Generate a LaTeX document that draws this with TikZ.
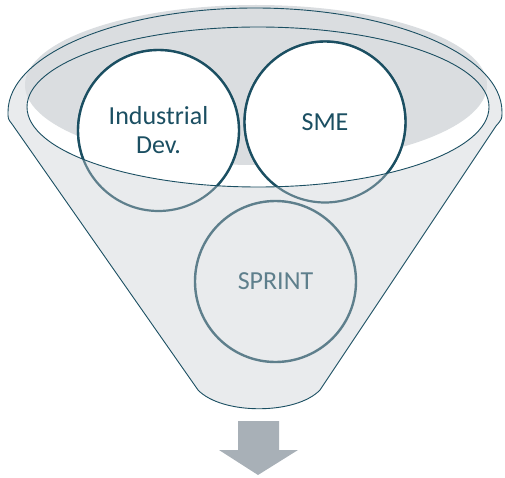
\documentclass[tikz,border=0pt]{standalone}
\usepackage{fontspec}
\setmainfont{Carlito}
\definecolor{petrole}{HTML}{1B4F62}
\definecolor{petroleclair}{HTML}{5E7F8C}
\definecolor{gristube}{HTML}{E9EBED}
\definecolor{grisfond}{HTML}{DADDE0}
\definecolor{grisfleche}{HTML}{A8B0B7}
\tikzset{
  bulle/.style={circle,minimum size=161pt,inner sep=0pt,line width=2.4pt,
    align=center,font=\fontsize{26}{29}\selectfont},
  bulle avant/.style={bulle,draw=petrole,fill=white,text=petrole},
  bulle fond/.style={bulle,draw=petroleclair,text=petroleclair},
  bord/.style={draw=petrole,line width=0.9pt},
  ouverture/.style={x radius=231pt,y radius=80pt}
}
% contour de l'entonnoir
\newcommand{\entonnoir}{(198,390) -- (12,124) .. controls (8,119) .. (8,112)
  .. controls (8,54.6) and (118.7,8) .. (255,8)
  .. controls (391.3,8) and (502,54.6) .. (502,112)
  .. controls (502,119) .. (496,126) -- (320,390)
  .. controls (296,415) and (222,415) .. (198,390) -- cycle}

\begin{document}
\begin{tikzpicture}[x=1pt,y=-1pt]
    \useasboundingbox (0,0) rectangle (505,478);
    % définition des points
    \coordinate (I) at (158.5,130.5);
    \coordinate (S) at (325,122);
    \coordinate (P) at (275.5,281.5);
    \coordinate (E) at (258,107);
    \coordinate (F) at (256,85);
    % entonnoir
    \fill[gristube] \entonnoir;
    \fill[white] (E) ellipse [ouverture];
    \fill[grisfond] (F) ellipse [ouverture];
    % cercles vus à travers l'entonnoir
    \draw[petroleclair,line width=2.2pt] (I) circle[radius=80.5pt] (S) circle[radius=80.5pt];
    \node[bulle fond] (sprint) at (P) {SPRINT};
    % cercles dans l'ouverture
    \begin{scope}
      \clip (E) ellipse [ouverture];
      \node[bulle avant] (indus) at (I) {Industrial\\Dev.};
      \node[bulle avant] (sme) at (S) {SME};
    \end{scope}
    % tracer les bords
    \draw[bord] \entonnoir;
    \draw[bord] (E) ellipse [ouverture];
    % flèche de sortie
    \fill[grisfleche] (238,421) -- (279,421) -- (279,450) -- (298,450)
      -- (258,475) -- (219,450) -- (238,450) -- cycle;
\end{tikzpicture}
\end{document}
